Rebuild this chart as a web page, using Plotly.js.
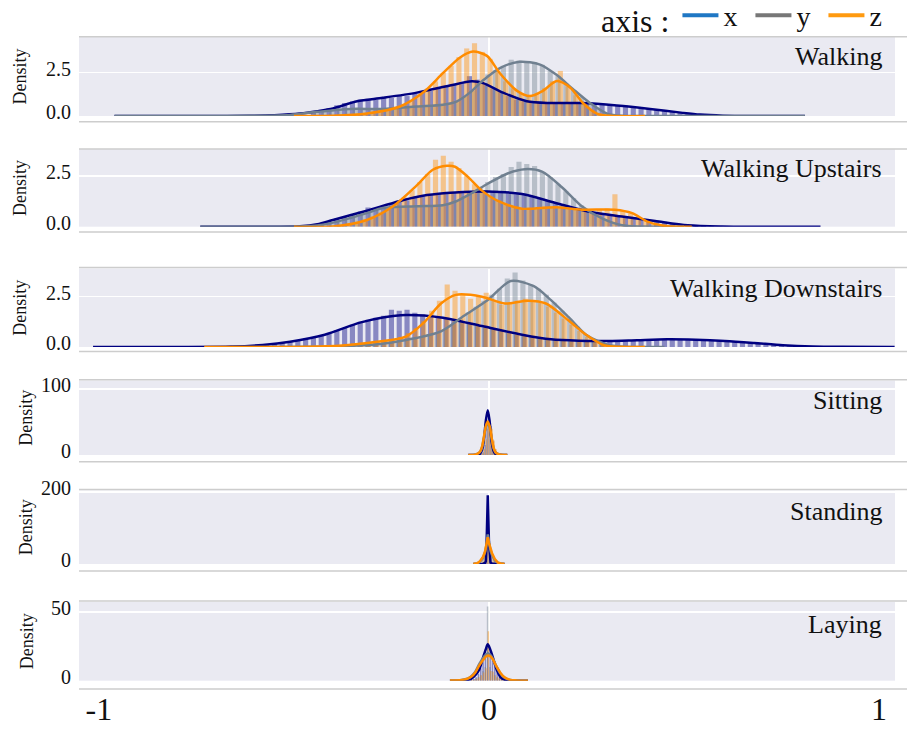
<!DOCTYPE html>
<html><head><meta charset="utf-8">
<script src="https://cdn.plot.ly/plotly-3.0.1.min.js"></script>
<style>html,body{margin:0;padding:0;background:#fff}#chart{width:910px;height:729px}</style>
</head><body><div id="chart"></div>
<script>
// ---------------- DATA ----------------
const activities = ['Walking','Walking Upstairs','Walking Downstairs','Sitting','Standing','Laying'];
const seriesNames = ['x','y','z'];
const xTickVals = [-1, 0, 1];
const xTickText = ['-1', '0', '1'];
const yTickVals = [[0,2.5],[0,2.5],[0,2.5],[0,100],[0,200],[0,50]];
const yTickText = [['0.0','2.5'],['0.0','2.5'],['0.0','2.5'],['0','100'],['0','200'],['0','50']];

// histogram bin starts (centre of first bin) and bin widths
const walkHistStart = [-0.45, -0.443, -0.337];
const upHistStart   = [-0.47, -0.443, -0.377];
const downHistStart = [-0.65, -0.333, -0.427];
const sitHistStart  = [-0.025, -0.0233, -0.0217];
const stdHistStart  = [-0.019, -0.0177, -0.0163];
const layHistStart  = [-0.045, -0.0455, -0.0435];
const histBinWidth  = [0.02, 0.02, 0.02, 0.005, 0.004, 0.006];

// Walking histograms (density)
const walkHistX = [0.25,0.35,0.45,0.62,0.75,0.85,0.95,1.0,0.95,1.1,1.05,1.2,1.15,1.3,1.4,1.45,1.6,1.7,1.85,1.95,2.3,2.1,1.9,1.6,1.4,1.15,0.95,0.85,0.8,0.75,0.75,0.8,0.7,0.75,0.8,0.72,0.75,0.7,0.65,0.62,0.6,0.55,0.5,0.42,0.38,0.32,0.25,0.2,0.15,0.1,0.06];
const walkHistY = [0.25,0.3,0.32,0.38,0.4,0.42,0.4,0.45,0.4,0.42,0.45,0.5,0.48,0.55,0.6,0.58,0.65,0.7,0.85,1.1,1.45,1.9,2.4,2.65,2.9,3.25,3.2,3.15,3.1,2.95,2.6,2.3,1.9,1.5,1.1,0.8,0.45,0.2,0.1,0.05,0.02];
const walkHistZ = [0.08,0.12,0.2,0.3,0.4,0.5,0.65,0.9,1.25,1.6,2.0,2.5,2.9,3.4,3.9,4.2,3.7,3.3,2.6,2.0,1.6,1.3,1.2,1.3,1.6,2.0,2.6,1.7,1.2,0.7,0.35,0.15,0.08,0.04,0.02];
// Walking Upstairs
const upHistX = [0.05,0.1,0.18,0.28,0.4,0.5,0.6,0.75,0.95,0.9,1.0,1.15,1.25,1.3,1.45,1.5,1.55,1.6,1.65,1.7,1.7,1.75,1.7,1.8,1.75,1.7,1.7,1.6,1.6,1.5,1.4,1.3,1.2,1.05,0.95,0.85,0.8,0.7,0.65,0.6,0.55,0.5,0.45,0.4,0.3,0.3,0.25,0.18,0.12,0.08,0.05,0.03,0.02,0.01,0.01];
const upHistY = [0.05,0.1,0.18,0.3,0.42,0.55,0.65,0.75,0.85,0.95,0.95,1.0,1.0,1.05,1.0,1.05,1.1,1.15,1.3,1.5,1.7,1.95,2.2,2.45,2.6,2.95,3.2,3.1,3.0,2.7,2.45,2.1,1.75,1.4,1.05,0.75,0.5,0.35,0.2,0.1,0.05,0.02];
const upHistZ = [0.05,0.12,0.22,0.35,0.5,0.7,0.9,1.15,1.45,1.8,2.2,2.6,3.3,3.5,3.2,2.9,2.5,2.1,1.8,1.5,1.3,1.1,1.0,0.9,0.95,0.9,1.0,0.95,0.9,0.85,0.9,0.85,0.8,0.85,0.9,1.6,0.8,0.65,0.45,0.28,0.15,0.08,0.03];
// Walking Downstairs
const downHistX = [0.02,0.03,0.05,0.08,0.12,0.16,0.22,0.28,0.35,0.42,0.5,0.6,0.7,0.85,0.95,1.1,1.25,1.35,1.45,1.55,1.85,1.8,1.85,1.7,1.6,1.55,1.45,1.4,1.3,1.25,1.15,1.05,0.95,0.9,0.8,0.7,0.62,0.55,0.5,0.42,0.38,0.35,0.32,0.3,0.3,0.28,0.3,0.28,0.3,0.32,0.3,0.35,0.38,0.35,0.4,0.38,0.42,0.38,0.4,0.35,0.38,0.32,0.3,0.28,0.25,0.22,0.2,0.18,0.15,0.12,0.1,0.08,0.07,0.06,0.05,0.04,0.03,0.02,0.02,0.01,0.01];
const downHistY = [0.05,0.07,0.1,0.15,0.2,0.28,0.35,0.45,0.55,0.65,0.75,0.9,1.1,1.4,1.7,2.0,2.3,2.6,2.9,3.4,3.7,3.3,3.1,2.9,2.6,2.2,1.8,1.4,1.0,0.65,0.4,0.2,0.1,0.05,0.02];
const downHistZ = [0.03,0.06,0.1,0.14,0.18,0.22,0.25,0.28,0.32,0.4,0.5,0.7,0.95,1.3,1.8,2.3,3.1,2.8,2.6,2.4,2.5,2.7,2.3,2.1,2.2,2.3,2.4,2.3,2.2,2.0,1.7,1.4,1.1,0.8,0.5,0.3,0.12,0.05,0.02];
// Sitting / Standing / Laying
const sitHistX = [0.5,1.5,4,15,45,62,44,14,4,1.5,0.5];
const sitHistY = [1,3,8,22,40,46,38,20,8,3,1];
const sitHistZ = [1,3,9,24,42,48,40,22,9,3,1];
const stdHistX = [0.3,1,3,10,185,20,6,2,0.8,0.3];
const stdHistY = [12,22,34,55,75,48,30,20,10,4];
const stdHistZ = [16,27,42,62,60,42,30,20,12,6];
const layHistX = [0.6,1.2,2.5,5,9,14,19,24,22,16,10,6,3,1.5,0.8,0.4];
const layHistY = [0.4,0.8,1.5,2.5,4,7,10,54,10,7,4,2.5,1.5,0.8,0.4,0.2];
const layHistZ = [0.5,1,1.5,2.5,4,6,9,36,7,6.5,4,2.5,1.5,1,0.5,0.3];

// KDE curves: grid positions and densities
const walkKdeGridX = [-0.96,-0.7,-0.613,-0.55,-0.485,-0.44,-0.40,-0.338,-0.272,-0.185,-0.10,-0.044,-0.015,0.036,0.097,0.156,0.241,0.328,0.413,0.497,0.541,0.6,0.68,0.81];
const walkKdeDensX = [0,0,0.01,0.05,0.14,0.28,0.44,0.85,1.05,1.35,1.76,2.0,1.9,1.35,0.85,0.75,0.75,0.61,0.41,0.18,0.08,0.02,0,0];
const walkKdeGridY = [-0.96,-0.7,-0.613,-0.51,-0.441,-0.356,-0.272,-0.185,-0.118,-0.082,-0.049,-0.015,0.028,0.079,0.131,0.174,0.215,0.259,0.303,0.344,0.4,0.81];
const walkKdeDensY = [0,0,0.01,0.06,0.24,0.41,0.41,0.55,0.65,0.85,1.35,2.06,2.77,3.13,2.97,2.36,1.56,0.75,0.14,0.01,0,0];
const walkKdeGridZ = [-0.5,-0.40,-0.313,-0.228,-0.169,-0.118,-0.074,-0.041,-0.005,0.028,0.072,0.105,0.138,0.174,0.208,0.241,0.277,0.31,0.4];
const walkKdeDensZ = [0,0.01,0.14,0.55,1.35,2.47,3.38,3.72,3.47,2.47,1.45,1.15,1.45,2.02,1.65,0.75,0.14,0.01,0];

const upKdeGridX = [-0.74,-0.6,-0.485,-0.44,-0.40,-0.313,-0.228,-0.159,-0.087,-0.003,0.085,0.169,0.254,0.341,0.426,0.51,0.597,0.7,0.85];
const upKdeDensX = [0,0,0.02,0.12,0.33,0.79,1.27,1.56,1.69,1.74,1.61,1.18,0.75,0.50,0.28,0.07,0.01,0,0];
const upKdeGridY = [-0.74,-0.55,-0.485,-0.44,-0.40,-0.313,-0.272,-0.185,-0.118,-0.087,-0.045,-0.003,0.049,0.092,0.136,0.187,0.238,0.29,0.341,0.392,0.5];
const upKdeDensY = [0,0,0.01,0.06,0.2,0.67,0.92,1.01,1.06,1.23,1.65,2.12,2.64,2.84,2.72,1.95,1.01,0.41,0.07,0.01,0];
const upKdeGridZ = [-0.5,-0.40,-0.313,-0.246,-0.185,-0.144,-0.108,-0.087,-0.054,-0.018,0.023,0.085,0.169,0.238,0.323,0.367,0.408,0.459,0.52];
const upKdeDensZ = [0,0.01,0.33,1.01,2.04,2.81,3.01,2.96,2.46,1.78,1.27,0.89,0.96,0.84,0.84,0.67,0.24,0.02,0];

const downKdeGridX = [-1.015,-0.8,-0.659,-0.58,-0.51,-0.421,-0.331,-0.272,-0.213,-0.123,-0.018,0.085,0.159,0.23,0.308,0.38,0.456,0.53,0.605,0.68,0.754,0.83,0.903,1.04];
const downKdeDensX = [0,0,0.02,0.1,0.26,0.61,1.21,1.47,1.59,1.47,1.04,0.61,0.38,0.31,0.30,0.34,0.38,0.36,0.30,0.2,0.09,0.03,0.01,0];
const downKdeGridY = [-0.66,-0.45,-0.362,-0.28,-0.213,-0.123,-0.064,-0.003,0.056,0.115,0.159,0.205,0.249,0.308,0.382,0.45];
const downKdeDensY = [0,0.01,0.05,0.15,0.35,0.78,1.55,2.33,3.28,3.02,2.33,1.47,0.61,0.09,0,0];
const downKdeGridZ = [-0.73,-0.5,-0.436,-0.36,-0.287,-0.213,-0.167,-0.123,-0.085,-0.018,0.041,0.1,0.146,0.205,0.249,0.295,0.338,0.4];
const downKdeDensZ = [0,0,0.02,0.1,0.26,0.52,1.21,2.16,2.59,2.5,2.16,2.3,2.16,1.3,0.61,0.09,0.01,0];

const sitKdeGrid = [-0.053,-0.033,-0.023,-0.018,-0.013,-0.008,-0.003,0.002,0.007,0.012,0.017,0.027,0.047];
const sitKdeDensX = [0,0.5,2,7,22,52,68,50,20,6,1.5,0.3,0];
const sitKdeDensY = [0.1,1,4.5,11,26,42,48,41,25,10,4,0.8,0.1];
const sitKdeDensZ = [0.1,1,5,12,27,44,51,43,26,11,4,0.8,0.1];

const stdKdeGrid = [-0.04,-0.03,-0.023,-0.015,-0.01,-0.008,-0.006,-0.003,0,0.002,0.004,0.008,0.015,0.023,0.03,0.04];
const stdKdeDensX = [0,0,0.2,1,3,8,60,191,60,10,4,1.5,0.3,0,0,0];
const stdKdeDensY = [0,1.5,6,17,33,43,55,82,55,45,36,24,10,3,1,0];
const stdKdeDensZ = [0,2,8,20,35,44,55,74,58,50,42,30,14,4,1.5,0];

const layKdeGrid = [-0.1,-0.07,-0.055,-0.045,-0.035,-0.025,-0.015,-0.008,-0.003,0.003,0.01,0.02,0.03,0.04,0.055,0.07,0.1];
const layKdeDensX = [0,0.1,0.5,1.5,4,8,17,23,26.5,23,17,8,2.5,0.8,0.2,0,0];
const layKdeDensY = [0.2,0.6,1.5,3.2,6.5,12,16.5,19,20,19,16,10,5,2.2,0.5,0.2,0];
const layKdeDensZ = [0.2,0.6,1.5,3,6,11,15,17.5,18.3,17.8,15.5,10,5.5,2.5,0.6,0.2,0];

// ---------------- ASSEMBLY ----------------
const panelHists = [
  [walkHistX, walkHistY, walkHistZ],
  [upHistX, upHistY, upHistZ],
  [downHistX, downHistY, downHistZ],
  [sitHistX, sitHistY, sitHistZ],
  [stdHistX, stdHistY, stdHistZ],
  [layHistX, layHistY, layHistZ]
];
const panelHistStarts = [walkHistStart, upHistStart, downHistStart, sitHistStart, stdHistStart, layHistStart];
const panelKdeGrids = [
  [walkKdeGridX, walkKdeGridY, walkKdeGridZ],
  [upKdeGridX, upKdeGridY, upKdeGridZ],
  [downKdeGridX, downKdeGridY, downKdeGridZ],
  [sitKdeGrid, sitKdeGrid, sitKdeGrid],
  [stdKdeGrid, stdKdeGrid, stdKdeGrid],
  [layKdeGrid, layKdeGrid, layKdeGrid]
];
const panelKdeDens = [
  [walkKdeDensX, walkKdeDensY, walkKdeDensZ],
  [upKdeDensX, upKdeDensY, upKdeDensZ],
  [downKdeDensX, downKdeDensY, downKdeDensZ],
  [sitKdeDensX, sitKdeDensY, sitKdeDensZ],
  [stdKdeDensX, stdKdeDensY, stdKdeDensZ],
  [layKdeDensX, layKdeDensY, layKdeDensZ]
];

// ---------------- STYLE / LAYOUT ----------------
const FONT = 'Liberation Serif, Times New Roman, serif';
const lineColors = ['#000080', '#708090', '#ff8c00'];
const barColors = ['rgba(0,0,128,0.42)', 'rgba(112,128,144,0.42)', 'rgba(255,140,0,0.42)'];
const legendColors = ['#1f77c4', '#777777', '#ff9a10'];
const W = 910, H = 729, ML = 79, MR = 15;
const bgTop = [37, 149.3, 268.5, 380.5, 490.5, 602];
const bgBot = [116, 226.7, 347, 455, 564, 680.7];
const lineTop = [36.7, 149, 267.5, 379.8, 489.5, 601];
const lineBot = [121.7, 232, 351.5, 461.7, 571, 689];
const yMax = [4.56, 3.82, 3.9, 113, 204, 57.3];
const titleStandoff = [14, 14, 14, 3, 3, 12];
const titleY = [0.75, 0.75, 0.75, 0.73, 0.71, 0.71];
const lineShapes = ['spline', 'spline', 'spline', 'spline', 'linear', 'spline'];
const xRange = [-1.051, 1.041];
const py = v => 1 - v / H;

const traces = [];
// legend-only entries
for (let s = 0; s < 3; s++) {
  traces.push({type:'scatter', mode:'lines', x:[null], y:[null], name: seriesNames[s],
    line:{color: legendColors[s], width:4}, xaxis:'x', yaxis:'y', hoverinfo:'skip', showlegend:true});
}
for (let p = 0; p < 6; p++) {
  const suf = p === 0 ? '' : String(p + 1);
  for (let s = 0; s < 3; s++) {
    traces.push({type:'bar', x0: panelHistStarts[p][s], dx: histBinWidth[p], y: panelHists[p][s],
      width: histBinWidth[p] * 0.66, marker:{color: barColors[s], line:{width:0}},
      xaxis:'x' + suf, yaxis:'y' + suf, showlegend:false, hoverinfo:'skip'});
    traces.push({type:'scatter', mode:'lines', x: panelKdeGrids[p][s], y: panelKdeDens[p][s],
      line:{color: lineColors[s], width:2.5, shape: lineShapes[p], smoothing:0.8},
      xaxis:'x' + suf, yaxis:'y' + suf, showlegend:false, hoverinfo:'skip'});
  }
}

const layout = {
  width: W, height: H,
  margin: {l: ML, r: MR, t: 0, b: 0, autoexpand: false},
  paper_bgcolor: '#ffffff', plot_bgcolor: '#eaeaf2',
  font: {family: FONT, color: '#111111'},
  barmode: 'overlay',
  showlegend: true,
  legend: {orientation:'h', x: (599 - ML) / (W - ML - MR), xanchor:'left', y: 1.013, yanchor:'top',
    font:{size:28, family: FONT, color:'#111'}, title:{text:'axis :', font:{size:32, family: FONT}},
    bgcolor:'rgba(0,0,0,0)', itemwidth:36, entrywidth:22, entrywidthmode:'pixels', tracegroupgap:0},
  shapes: [], annotations: []
};

for (let p = 0; p < 6; p++) {
  const suf = p === 0 ? '' : String(p + 1);
  layout['xaxis' + suf] = {
    domain:[0,1], range: xRange, anchor:'y' + suf, showgrid:false,
    zeroline:true, zerolinecolor:'#ffffff', zerolinewidth:1.5,
    showticklabels: p === 5, tickmode:'array', tickvals: xTickVals, ticktext: xTickText,
    ticks:'', showline:false, tickfont:{size:32, family: FONT, color:'#111'},
    ticklabelstandoff: 6, automargin:false
  };
  layout['yaxis' + suf] = {
    domain:[py(bgBot[p]), py(bgTop[p])], range:[0, yMax[p]], anchor:'x' + suf,
    tickmode:'array', tickvals: yTickVals[p], ticktext: yTickText[p],
    showgrid:true, gridcolor:'#ffffff', gridwidth:1.5, zeroline:false, ticks:'',
    showline:false, tickfont:{size:20, family: FONT, color:'#111'},
    ticklabelstandoff: 7, ticklabelshift: -4, automargin:false,
    title:{text:'Density', font:{size:18, family: FONT, color:'#111'}, standoff: titleStandoff[p]}
  };
  const frame = {type:'line', xref:'paper', yref:'paper', x0: 0, x1: (907 - ML) / (W - ML - MR),
    line:{color:'#cdcdcd', width:1.5}, layer:'above'};
  layout.shapes.push(Object.assign({}, frame, {y0: py(lineTop[p]), y1: py(lineTop[p])}));
  layout.shapes.push(Object.assign({}, frame, {y0: py(lineBot[p]), y1: py(lineBot[p])}));
  layout.annotations.push({xref:'x' + suf + ' domain', yref:'y' + suf + ' domain', x:0.9865, y: titleY[p],
    xanchor:'right', yanchor:'middle', text: activities[p], showarrow:false,
    font:{size:26, family: FONT, color:'#111'}});
}

Plotly.newPlot('chart', traces, layout, {staticPlot:true, displayModeBar:false});
</script>
</body></html>
